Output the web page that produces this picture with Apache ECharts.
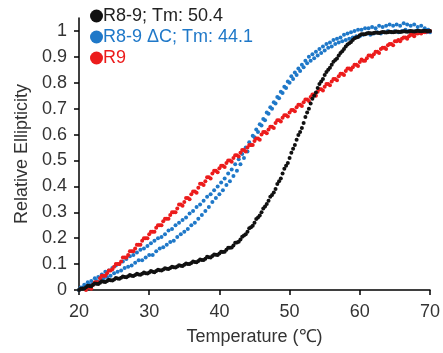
<!DOCTYPE html>
<html>
<head>
<meta charset="utf-8">
<script src="https://cdn.jsdelivr.net/npm/echarts@6/dist/echarts.min.js"></script>
<style>html,body{margin:0;padding:0;background:#fff}#c{width:443px;height:353px}</style>
</head>
<body>
<div id="c"></div>
<script>
// Temperature grid (°C) for the first scan
var temps = [20,20.5,21,21.5,22,22.5,23,23.5,24,24.5,25,25.5,26,26.5,27,27.5,28,28.5,29,29.5,
30,30.5,31,31.5,32,32.5,33,33.5,34,34.5,35,35.5,36,36.5,37,37.5,38,38.5,39,39.5,
40,40.5,41,41.5,42,42.5,43,43.5,44,44.5,45,45.5,46,46.5,47,47.5,48,48.5,49,49.5,
50,50.5,51,51.5,52,52.5,53,53.5,54,54.5,55,55.5,56,56.5,57,57.5,58,58.5,59,59.5,
60,60.5,61,61.5,62,62.5,63,63.5,64,64.5,65,65.5,66,66.5,67,67.5,68,68.5,69,69.5,70];
// Temperature grid (°C) for the second scan
var temps2 = [20.25,20.75,21.25,21.75,22.25,22.75,23.25,23.75,24.25,24.75,25.25,25.75,26.25,26.75,27.25,27.75,28.25,28.75,29.25,29.75,
30.25,30.75,31.25,31.75,32.25,32.75,33.25,33.75,34.25,34.75,35.25,35.75,36.25,36.75,37.25,37.75,38.25,38.75,39.25,39.75,
40.25,40.75,41.25,41.75,42.25,42.75,43.25,43.75,44.25,44.75,45.25,45.75,46.25,46.75,47.25,47.75,48.25,48.75,49.25,49.75,
50.25,50.75,51.25,51.75,52.25,52.75,53.25,53.75,54.25,54.75,55.25,55.75,56.25,56.75,57.25,57.75,58.25,58.75,59.25,59.75,
60.25,60.75,61.25,61.75,62.25,62.75,63.25,63.75,64.25,64.75,65.25,65.75,66.25,66.75,67.25,67.75,68.25,68.75,69.25,69.75];

// R8-9 (black)
var r89a = [0.000,0.006,0.011,0.015,0.020,0.024,0.028,0.032,0.035,0.038,
0.041,0.044,0.047,0.050,0.053,0.055,0.058,0.060,0.063,0.065,
0.068,0.070,0.073,0.076,0.079,0.082,0.085,0.088,0.091,0.094,
0.097,0.100,0.104,0.108,0.112,0.116,0.121,0.126,0.131,0.136,
0.141,0.147,0.155,0.163,0.172,0.183,0.195,0.210,0.225,0.242,
0.260,0.280,0.300,0.322,0.345,0.367,0.390,0.420,0.450,0.480,
0.510,0.545,0.580,0.610,0.645,0.685,0.720,0.750,0.780,0.805,
0.830,0.850,0.870,0.888,0.905,0.922,0.940,0.953,0.965,0.975,
0.983,0.987,0.990,0.991,0.992,0.993,0.994,0.995,0.995,0.996,
0.996,0.997,0.997,0.998,0.998,0.999,0.999,1.000,1.000,1.000,1.000];
var r89b = [0.005,0.006,0.016,0.014,0.025,0.023,0.034,0.031,0.040,0.037,
0.046,0.043,0.052,0.049,0.058,0.054,0.063,0.059,0.068,0.064,
0.073,0.069,0.078,0.075,0.084,0.081,0.090,0.087,0.096,0.093,
0.102,0.100,0.110,0.107,0.118,0.116,0.128,0.125,0.137,0.135,
0.148,0.148,0.163,0.164,0.182,0.186,0.206,0.215,0.238,0.248,
0.274,0.288,0.315,0.332,0.360,0.376,0.409,0.430,0.468,0.490,
0.530,0.560,0.598,0.625,0.668,0.700,0.738,0.762,0.795,0.815,
0.842,0.858,0.881,0.894,0.915,0.930,0.948,0.957,0.972,0.977,
0.987,0.987,0.992,0.990,0.994,0.992,0.996,0.994,0.997,0.995,
0.998,0.996,0.999,0.997,1.000,0.998,1.001,0.999,1.001,0.999];

// R8-9 ΔC (blue)
var r89dcA = [0.000,0.010,0.015,0.020,0.025,0.035,0.035,0.045,0.050,0.055,
0.065,0.070,0.075,0.085,0.090,0.095,0.105,0.115,0.115,0.125,
0.135,0.135,0.150,0.160,0.165,0.175,0.185,0.190,0.205,0.215,
0.225,0.235,0.250,0.260,0.275,0.290,0.305,0.320,0.340,0.355,
0.370,0.385,0.405,0.420,0.440,0.460,0.485,0.510,0.535,0.560,
0.590,0.610,0.635,0.655,0.680,0.700,0.720,0.740,0.760,0.780,
0.800,0.815,0.830,0.845,0.860,0.875,0.885,0.895,0.905,0.915,
0.925,0.935,0.940,0.950,0.955,0.960,0.965,0.970,0.975,0.980,
0.980,0.985,0.990,0.985,0.990,0.995,0.990,0.995,1.000,0.995,
1.000,0.995,1.000,1.005,1.000,0.995,1.000,0.995,1.000,0.995,0.995];
var r89dcB = [0.010,0.020,0.030,0.035,0.045,0.050,0.060,0.070,0.075,0.085,
0.095,0.100,0.110,0.120,0.130,0.135,0.145,0.155,0.160,0.170,
0.180,0.190,0.200,0.205,0.215,0.230,0.235,0.250,0.260,0.270,
0.280,0.295,0.305,0.320,0.330,0.345,0.360,0.370,0.385,0.400,
0.415,0.430,0.450,0.465,0.485,0.505,0.525,0.550,0.570,0.595,
0.620,0.640,0.660,0.685,0.705,0.725,0.745,0.765,0.785,0.805,
0.825,0.840,0.855,0.870,0.885,0.900,0.910,0.920,0.930,0.940,
0.950,0.955,0.965,0.970,0.975,0.985,0.990,0.995,1.000,1.005,
1.005,1.010,1.010,1.015,1.010,1.020,1.015,1.020,1.025,1.020,
1.025,1.020,1.030,1.025,1.020,1.025,1.015,1.020,1.010,1.005];

// R9 (red), starts at 21 °C
var r9a = [null,null,0.000,0.010,0.020,0.030,0.045,0.055,0.065,0.075,
0.090,0.100,0.110,0.125,0.135,0.150,0.160,0.175,0.190,0.200,
0.215,0.225,0.240,0.250,0.265,0.275,0.290,0.300,0.315,0.330,
0.340,0.355,0.370,0.380,0.395,0.410,0.420,0.435,0.450,0.460,
0.470,0.480,0.490,0.500,0.510,0.520,0.530,0.540,0.550,0.560,
0.575,0.585,0.600,0.610,0.620,0.630,0.645,0.655,0.665,0.675,
0.685,0.695,0.705,0.715,0.725,0.735,0.745,0.755,0.765,0.775,
0.785,0.795,0.805,0.815,0.825,0.835,0.845,0.855,0.860,0.870,
0.880,0.885,0.895,0.905,0.910,0.920,0.930,0.935,0.945,0.950,
0.960,0.965,0.970,0.975,0.980,0.985,0.990,0.993,0.996,0.998,1.000];
var r9b = [null,null,0.010,0.005,0.030,0.030,0.055,0.055,0.075,0.080,
0.100,0.100,0.125,0.125,0.150,0.150,0.175,0.175,0.200,0.200,
0.225,0.225,0.250,0.250,0.275,0.275,0.300,0.300,0.330,0.325,
0.355,0.350,0.380,0.375,0.410,0.405,0.435,0.430,0.460,0.455,
0.480,0.475,0.500,0.495,0.520,0.515,0.540,0.535,0.560,0.560,
0.585,0.580,0.610,0.605,0.630,0.625,0.655,0.650,0.675,0.670,
0.695,0.690,0.715,0.710,0.735,0.730,0.755,0.750,0.775,0.770,
0.795,0.790,0.815,0.810,0.835,0.830,0.855,0.850,0.870,0.865,
0.890,0.885,0.905,0.900,0.920,0.915,0.935,0.930,0.950,0.945,
0.960,0.960,0.975,0.970,0.985,0.980,0.990,0.990,0.995,0.998];

var xTicks = [20,30,40,50,60,70];
var yTicks = [0,0.1,0.2,0.3,0.4,0.5,0.6,0.7,0.8,0.9,1];

var names = ['R8-9; Tm: 50.4','R8-9 \u0394C; Tm: 44.1','R9'];
var colors = ['#111111','#1f78c8','#ec1c1c'];

function pairs(xs, ys){var out=[];for(var i=0;i<xs.length;i++){if(ys[i]!=null)out.push([xs[i],ys[i]]);}return out;}

var chart = echarts.init(document.getElementById('c'), null, {renderer:'canvas'});
var font = 'Liberation Sans, Arial, sans-serif';
function sc(name, data, color, z){
  return {name:name,type:'scatter',data:data,symbolSize:4,itemStyle:{color:color,opacity:1},z:z};
}
chart.setOption({
  animation:false,
  backgroundColor:'#fff',
  grid:{left:79,right:11,top:18,bottom:63,containLabel:false},
  legend:{
    orient:'vertical', left:90, top:6, padding:0, itemGap:1, itemWidth:13, itemHeight:13,
    icon:'circle', selectedMode:false,
    itemStyle:{opacity:1},
    textStyle:{fontSize:18,lineHeight:20,fontFamily:font,padding:[0,0,0,-5]},
    data:[
      {name:names[0],textStyle:{color:'#222'},itemStyle:{color:colors[0]}},
      {name:names[1],textStyle:{color:colors[1]},itemStyle:{color:colors[1]}},
      {name:names[2],textStyle:{color:colors[2]},itemStyle:{color:colors[2]}}
    ]
  },
  xAxis:{
    type:'value', min:20, max:70, interval:10,
    name:'Temperature (\u2103)', nameLocation:'middle', nameGap:38,
    nameTextStyle:{fontSize:18,fontFamily:font,color:'#333'},
    axisLine:{lineStyle:{color:'#000',width:1.5}},
    axisTick:{show:true,length:5,lineStyle:{color:'#000',width:1.5}},
    axisLabel:{fontSize:18,fontFamily:font,color:'#333',margin:13},
    splitLine:{show:false}
  },
  yAxis:{
    type:'value', min:0, max:1.05,
    name:'Relative Ellipticity', nameLocation:'middle', nameGap:43, nameRotate:90,
    nameTextStyle:{fontSize:18,fontFamily:font,color:'#333'},
    axisLine:{show:true,lineStyle:{color:'#000',width:1.5}},
    axisTick:{show:true,length:5,customValues:yTicks,lineStyle:{color:'#000',width:1.5}},
    axisLabel:{fontSize:18,fontFamily:font,color:'#333',margin:12,customValues:yTicks},
    splitLine:{show:false}
  },
  series:[
    sc(names[1], pairs(temps, r89dcA).concat(pairs(temps2, r89dcB)), colors[1], 2),
    sc(names[2], pairs(temps, r9a).concat(pairs(temps2, r9b)), colors[2], 3),
    sc(names[0], pairs(temps, r89a).concat(pairs(temps2, r89b)), colors[0], 4)
  ]
});
</script>
</body>
</html>
